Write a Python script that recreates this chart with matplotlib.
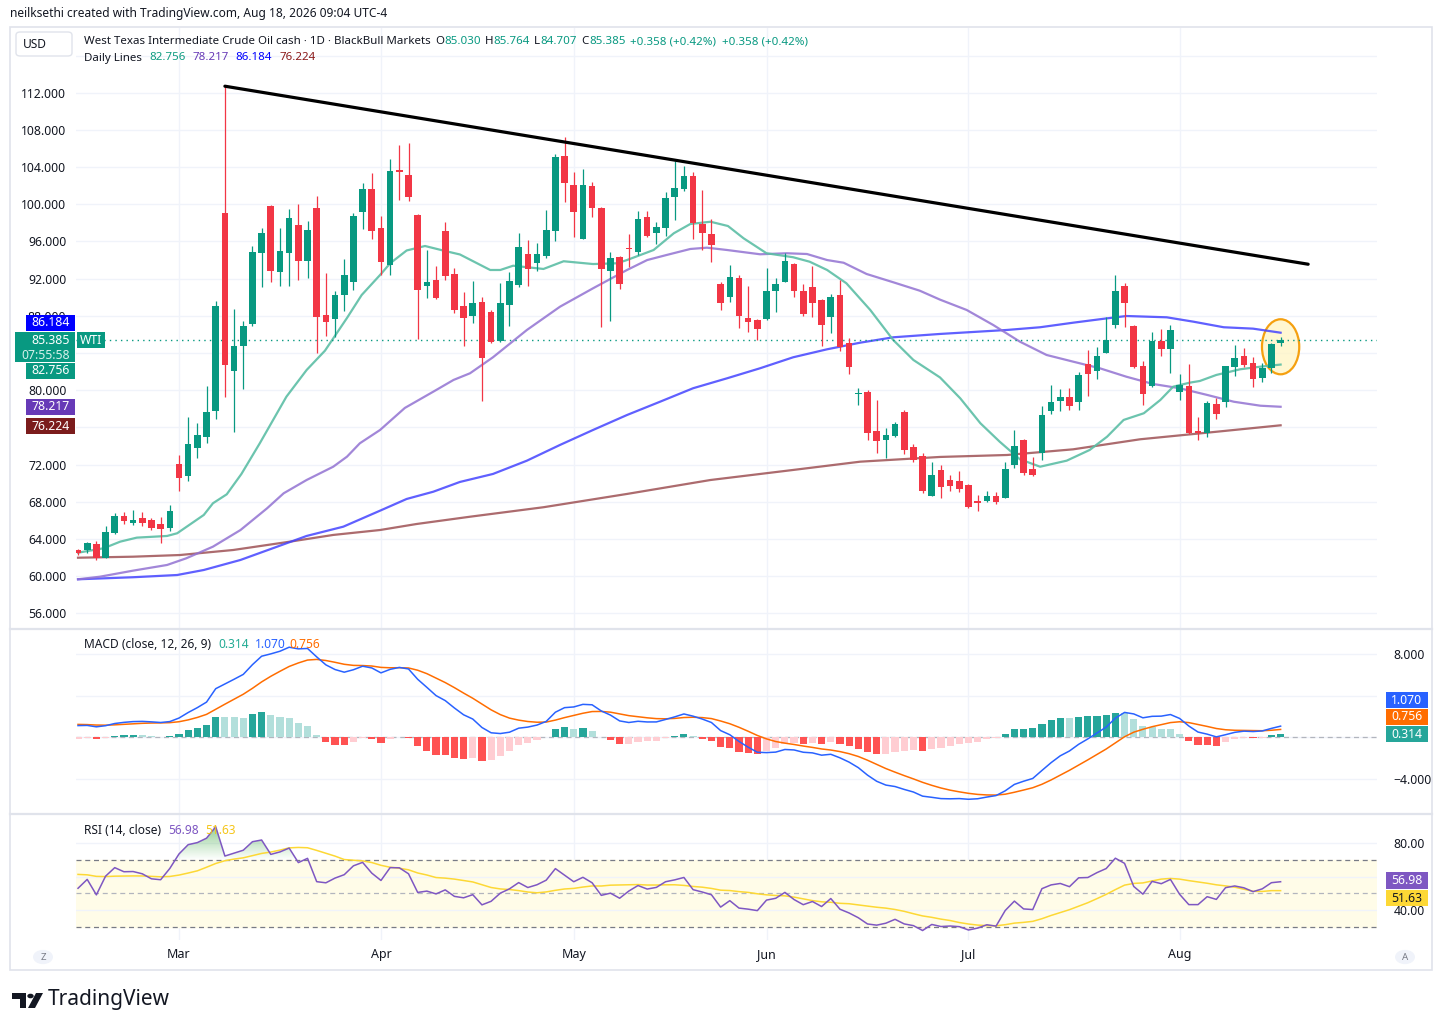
import matplotlib
matplotlib.use("Agg")
import matplotlib.pyplot as plt
from matplotlib.patches import Ellipse, Rectangle, FancyBboxPatch, Circle, Polygon
from matplotlib.lines import Line2D
from matplotlib.path import Path
import numpy as np
import pandas as pd

plt.rcParams['font.family'] = ['Noto Sans', 'DejaVu Sans']

# ---- daily candles, WTI cash, 13 Feb - 18 Aug 2026 ----
opens = [62.8, 62.8, 63.45, 62.0, 64.67, 66.45, 65.7, 66.2, 66.0, 65.6, 65.2,
         72.06, 70.8, 73.8, 75.0, 77.8, 99.1, 82.1, 84.8, 87.1, 94.8,
         99.8, 92.75, 94.8, 97.77, 93.93, 99.58, 88.1, 87.66, 90.27, 91.6,
         99.2, 101.6, 97.45, 93.47, 103.6, 103.15, 98.84, 91.2, 91.85, 97.12,
         92.5, 89.05, 88.0, 89.5, 88.41, 85.3, 89.2, 91.3, 94.65, 93.7,
         94.44, 97.16, 105.2, 102.07, 96.23, 101.96, 99.6, 92.85, 94.3, 95.3,
         94.9, 98.6, 96.88, 97.42, 100.74, 101.6, 103.04, 97.88, 96.8, 91.42,
         89.99, 92.04, 87.73, 87.55, 87.66, 90.7, 91.67, 93.57, 90.67, 91.13,
         89.7, 87.9, 90.24, 85.05, 79.55, 79.8, 75.6, 74.64, 75.1, 77.62,
         73.86, 72.92, 68.65, 71.4, 70.34, 70.23, 69.8, 67.95, 68.08, 68.62,
         68.44, 71.95, 74.64, 71.53, 73.2, 77.8, 78.84, 79.27, 78.77, 82.82,
         82.1, 84.03, 87.0, 91.2, 86.9, 82.6, 80.48, 85.3, 84.43, 79.84,
         80.45, 75.45, 75.36, 78.52, 78.77, 82.53, 83.68, 82.9, 81.35, 82.42, 85.03]
highs = [62.9, 63.7, 63.8, 65.4, 66.76, 66.9, 67.1, 66.9, 66.3, 66.4, 67.7,
         73.0, 77.1, 76.5, 80.45, 89.6, 112.7, 88.7, 87.4, 95.5, 97.45,
         99.9, 97.5, 99.45, 100.0, 98.2, 100.9, 92.64, 90.67, 94.1, 99.1,
         102.3, 103.4, 98.74, 104.9, 106.37, 106.55, 98.95, 95.08, 93.36, 98.1,
         93.1, 90.53, 91.75, 90.0, 88.6, 91.5, 92.68, 96.88, 96.16, 95.8,
         99.4, 105.4, 107.27, 103.44, 103.76, 102.4, 99.7, 94.83, 94.4, 96.8,
         99.27, 99.27, 98.06, 101.35, 104.69, 104.1, 103.44, 101.54, 98.37, 91.67,
         93.47, 92.39, 91.2, 87.7, 93.1, 92.04, 94.79, 93.7, 91.42, 93.4,
         89.8, 90.35, 91.85, 85.6, 80.27, 80.0, 78.95, 75.9, 76.6, 77.87,
         74.2, 73.2, 72.3, 71.9, 70.88, 71.3, 69.9, 68.73, 69.2, 69.02,
         72.28, 75.72, 74.75, 72.78, 78.3, 80.56, 80.13, 80.27, 82.0, 84.32,
         84.61, 87.84, 92.39, 91.56, 87.0, 83.17, 86.23, 86.58, 87.0, 81.74,
         82.82, 77.15, 78.87, 79.13, 82.6, 84.86, 84.57, 83.54, 82.9, 85.04, 85.764]
lows = [62.3, 62.5, 61.7, 61.9, 64.5, 65.6, 65.5, 65.4, 65.0, 63.6, 64.9,
        69.2, 70.2, 72.7, 74.3, 76.9, 79.3, 75.5, 80.1, 86.9, 91.1,
        91.67, 91.2, 91.2, 91.85, 92.1, 83.97, 85.86, 85.75, 88.5, 90.8,
        97.3, 96.26, 92.4, 92.4, 100.45, 100.4, 85.5, 89.88, 89.8, 91.85,
        88.34, 84.79, 87.26, 78.87, 85.1, 85.22, 86.94, 91.13, 91.24, 92.85,
        94.2, 96.08, 100.27, 96.5, 96.23, 98.67, 86.83, 87.47, 90.92, 93.3,
        94.54, 96.5, 95.73, 96.62, 98.3, 101.46, 96.23, 95.08, 93.82, 88.63,
        89.52, 86.72, 86.29, 85.4, 87.55, 88.44, 91.67, 90.06, 87.98, 87.9,
        84.76, 86.1, 84.2, 81.74, 78.4, 74.64, 73.2, 72.74, 75.0, 73.1,
        72.3, 68.9, 68.6, 68.4, 69.2, 69.0, 67.3, 67.04, 67.94, 67.76,
        68.37, 71.6, 70.9, 70.77, 72.5, 77.44, 77.8, 77.87, 77.87, 79.38,
        81.17, 84.03, 86.66, 86.83, 82.35, 78.4, 80.3, 83.68, 81.9, 78.95,
        75.3, 74.64, 74.99, 76.9, 78.16, 81.56, 82.5, 80.38, 80.9, 81.82, 84.707]
closes = [62.5, 63.6, 61.9, 64.7, 66.45, 65.96, 66.0, 65.75, 65.2, 65.1, 67.0,
          70.59, 74.2, 75.2, 77.65, 89.05, 82.7, 84.75, 86.9, 94.9, 96.9,
          92.85, 94.97, 98.5, 93.93, 97.23, 87.9, 87.37, 90.24, 92.39, 98.74,
          101.6, 97.16, 93.82, 103.58, 103.5, 100.81, 90.77, 91.6, 89.95, 92.31,
          88.63, 87.8, 89.4, 83.5, 85.22, 89.38, 91.75, 95.4, 93.04, 94.6,
          97.23, 105.1, 102.25, 99.2, 102.07, 99.56, 93.0, 94.2, 91.4, 95.2,
          98.37, 96.62, 97.52, 100.64, 101.7, 103.04, 97.95, 96.88, 95.65, 89.41,
          92.14, 88.0, 87.37, 86.55, 90.67, 91.42, 93.9, 90.7, 88.2, 89.41,
          87.01, 90.02, 84.68, 82.53, 79.65, 75.43, 74.57, 75.18, 76.36, 73.57,
          72.49, 69.19, 70.88, 69.6, 69.73, 69.37, 67.47, 67.9, 68.62, 67.97,
          71.49, 74.0, 71.13, 70.88, 77.3, 78.73, 79.27, 78.33, 81.63, 81.75,
          83.68, 85.4, 90.67, 89.41, 82.53, 79.6, 85.3, 84.43, 86.47, 80.56,
          75.43, 75.43, 78.66, 77.41, 82.6, 83.43, 82.71, 81.2, 82.35, 84.97, 85.385]

# "Daily Lines" moving averages (bar position, price)
fast_x = [0, 2.8, 4.6, 6.4, 9.7, 10.8, 13.7, 14.7, 16.2, 17.8, 19.8, 22.7, 24.9, 26.9, 29.3,
          30.9, 32.9, 34.0, 35.8, 37.8, 40.0, 41.6, 44.9, 46.0, 47.4, 50.7, 52.9, 56.1, 58.7,
          59.8, 62.7, 64.9, 66.7, 68.9, 70.8, 72.5, 75.0, 77.9, 79.7, 81.6, 83.7, 86.3, 88.8,
          91.0, 93.9, 96.1, 98.3, 100.4, 102.6, 104.8, 107.7, 110.2, 112.1, 113.9, 116.1,
          117.9, 119.3, 121.1, 122.2, 124.0, 126.6, 128.8, 131]
fast_v = [62.52, 63.0, 63.71, 64.14, 64.32, 64.61, 66.58, 67.84, 68.8, 70.99, 74.29, 79.3,
          82.17, 84.25, 87.77, 90.24, 92.39, 93.65, 95.03, 95.51, 94.97, 94.6, 92.93, 92.93,
          93.39, 93.04, 93.87, 93.57, 93.65, 94.0, 95.08, 96.88, 97.88, 98.12, 97.66, 96.34,
          94.73, 94.3, 93.82, 92.93, 91.5, 88.63, 85.4, 83.25, 81.37, 79.13, 76.44, 74.46,
          72.57, 71.77, 72.42, 73.57, 75.0, 76.8, 77.52, 78.95, 80.38, 80.81, 80.99, 81.64,
          82.25, 82.53, 82.756]
slow_x = [0, 2.4, 6.0, 9.7, 11.8, 14.7, 17.7, 20.6, 22.4, 24.9, 27.8, 29.3, 30.7, 32.9, 35.6,
          38.7, 40.9, 42.7, 45.2, 48.9, 52.5, 56.1, 59.8, 62.0, 64.1, 66.7, 68.5, 70.7, 74.3,
          77.2, 79.4, 81.6, 83.4, 85.9, 88.8, 91.7, 93.9, 96.8, 99.7, 102.6, 105.5, 108.4,
          111.3, 114.2, 117.1, 120.0, 123.0, 125.9, 128.8, 131]
slow_v = [59.66, 59.94, 60.59, 61.2, 61.92, 63.17, 64.96, 67.3, 68.91, 70.34, 71.77, 72.85,
          74.29, 75.72, 78.09, 79.84, 81.1, 81.82, 83.54, 86.48, 88.98, 90.96, 92.93, 94.0,
          94.54, 95.19, 95.33, 95.08, 94.62, 94.73, 94.65, 94.0, 93.71, 92.5, 91.61, 90.7,
          89.74, 88.63, 87.01, 85.22, 83.79, 83.07, 82.36, 81.45, 80.67, 80.21, 79.49, 78.76,
          78.33, 78.217]
mid_x = [0, 6.0, 10.8, 13.7, 17.7, 21.7, 24.9, 28.9, 32.9, 35.8, 38.7, 41.6, 45.2, 48.9, 52.5,
         56.1, 59.8, 63.4, 67.0, 70.7, 74.3, 77.9, 81.6, 85.2, 88.8, 93.9, 101.2, 104.8, 108.4,
         112.1, 114.2, 118.6, 121.5, 124.8, 128.0, 131]
mid_v = [59.66, 59.88, 60.12, 60.66, 61.74, 63.17, 64.32, 65.32, 67.04, 68.3, 69.08, 70.13,
         70.99, 72.42, 74.11, 75.72, 77.33, 78.76, 80.21, 81.28, 82.36, 83.54, 84.4, 85.11,
         85.69, 86.05, 86.48, 86.77, 87.26, 87.73, 87.98, 87.84, 87.37, 86.77, 86.62, 86.184]
long_x = [0, 6.0, 11.1, 16.9, 23.1, 27.8, 32.9, 36.9, 42.7, 50.7, 59.8, 68.9, 77.9, 85.2, 93.9,
          101.2, 108.4, 115.7, 123.0, 131]
long_v = [61.98, 62.09, 62.27, 62.81, 63.71, 64.43, 64.96, 65.61, 66.39, 67.41, 68.84, 70.34,
          71.42, 72.31, 72.82, 73.03, 73.64, 74.72, 75.43, 76.224]

# drawn trend line (bar, price)
trend_x = [16, 134.0]
trend_v = [112.7, 93.55]

# indicator start states (history before the visible range)
ema12_start, ema26_start, signal_start = 62.3, 61.1, 1.27
rsi_gain_start, rsi_loss_start, rsi_prior = 0.35, 0.31, 62.0

# trading days (Good Friday closed)
dates = pd.bdate_range("2026-02-13", "2026-08-18")
dates = dates[dates != pd.Timestamp("2026-04-03")]
month_names = ["Mar", "Apr", "May", "Jun", "Jul", "Aug"]

GREEN, RED = "#089981", "#F23645"
TXT = "#131722"
GRID = "#F0F3FA"

W, H = 1441, 1030
fig = plt.figure(figsize=(W / 100, H / 100), dpi=100)
fig.patch.set_facecolor("white")


def fx(px):
    return px / W


def fy(py):
    return 1 - py / H


L, R = 76, 1377
ax_p = fig.add_axes([fx(L), fy(628), (R - L) / W, 600 / H])
ax_m = fig.add_axes([fx(L), fy(813), (R - L) / W, 183 / H], sharex=ax_p)
ax_r = fig.add_axes([fx(L), fy(940), (R - L) / W, 125 / H], sharex=ax_p)

o, h, l, c = map(np.array, (opens, highs, lows, closes))
idx = np.arange(len(c))
month_idx = [int(np.argmax((dates.month == m) & (dates.year == 2026))) for m in range(3, 9)]

for ax in (ax_p, ax_m, ax_r):
    for s in ax.spines.values():
        s.set_visible(False)
    for m in month_idx:
        ax.axvline(m, color=GRID, lw=1, zorder=0)
    ax.tick_params(length=0, colors=TXT, labelsize=8.8)

# ---- price pane ----
ax_p.set_xlim(-0.22, 141.5)
ax_p.set_ylim(54.42, 118.96)
price_ticks = np.arange(56, 113, 4)
ax_p.set_yticks(price_ticks)
# 84 and 76 sit fully under the price badges
ax_p.set_yticklabels(["" if v in (84, 76) else f"{v:.3f}" for v in price_ticks])
ax_p.tick_params(axis="y", pad=7)
ax_p.tick_params(axis="x", labelbottom=False)
for v in np.arange(56, 117, 4):
    ax_p.axhline(v, color=GRID, lw=1, zorder=0)

ax_p.add_patch(Ellipse((131, 84.67), 4.06, 5.92, facecolor=(1, 0.96, 0.78, 0.8),
                       edgecolor="#F5A00F", lw=1.6, zorder=1.5))

ax_p.plot(long_x, long_v, color="#A35B5E", lw=1.6, alpha=0.9, zorder=2)
ax_p.plot(mid_x, mid_v, color="#4444FF", lw=1.6, alpha=0.85, zorder=2)
ax_p.plot(slow_x, slow_v, color="#9272D2", lw=1.6, alpha=0.85, zorder=2)
ax_p.plot(fast_x, fast_v, color="#5CBEA5", lw=1.6, alpha=0.9, zorder=2)

cols = np.where(c >= o, GREEN, RED)
ax_p.vlines(idx, l, h, colors=cols, lw=0.9, zorder=3)
ax_p.bar(idx, np.maximum(np.abs(c - o), 0.14), bottom=np.minimum(o, c), width=0.72,
         color=cols, linewidth=0, zorder=4)

ax_p.plot(trend_x, trend_v, color="black", lw=2.3, solid_capstyle="round", zorder=5)
ax_p.axhline(closes[-1], color=GREEN, lw=1, ls=(0, (1, 3)), zorder=2.5)

# ---- MACD ----
def ema(start, values, n):
    a = 2 / (n + 1)
    e, out = start, []
    for v in values:
        e = e + a * (v - e)
        out.append(e)
    return np.array(out)


macd = ema(ema12_start, c, 12) - ema(ema26_start, c, 26)
signal = ema(signal_start, macd, 9)
hist = macd - signal
prev = np.r_[hist[0], hist[:-1]]
hcols = np.where(hist >= 0, np.where(hist >= prev, "#26A69A", "#B2DFDB"),
                 np.where(hist < prev, "#FF5252", "#FFCDD2"))
ax_m.set_ylim(-7.26, 10.3)
for v in (-4, 0, 4, 8):
    ax_m.axhline(v, color=GRID, lw=1, zorder=0)
ax_m.axhline(0, color="#B2B5BE", lw=0.9, ls=(0, (4, 3)), zorder=1)
ax_m.bar(idx, hist, width=0.78, color=hcols, linewidth=0, zorder=2)
ax_m.plot(idx, signal, color="#FF6D00", lw=1.1, zorder=3)
ax_m.plot(idx, macd, color="#2962FF", lw=1.1, zorder=4)
ax_m.yaxis.tick_right()
ax_m.set_yticks([-4, 4, 8])
ax_m.set_yticklabels(["\u22124.000", "4.000", "8.000"])
ax_m.tick_params(axis="y", pad=12)
ax_m.tick_params(axis="x", labelbottom=False)

# ---- RSI ----
ag, al = rsi_gain_start, rsi_loss_start
rsi = [100 - 100 / (1 + ag / al)]
for i in range(1, len(c)):
    d = c[i] - c[i - 1]
    ag = (ag * 13 + max(d, 0)) / 14
    al = (al * 13 + max(-d, 0)) / 14
    rsi.append(100 - 100 / (1 + ag / al))
rsi = np.array(rsi)
rsi_ma = pd.Series(np.r_[[rsi_prior] * 13, rsi]).rolling(14).mean().to_numpy()[13:]

ax_r.set_ylim(22.0, 97.0)
ax_r.axhspan(30, 70, color="#FFFCE8", zorder=0)
for v in (40, 60, 80):
    ax_r.axhline(v, color=GRID, lw=1, zorder=0.5)
ax_r.axhline(70, color="#787B86", lw=0.9, ls=(0, (4, 3)), zorder=1)
ax_r.axhline(30, color="#787B86", lw=0.9, ls=(0, (4, 3)), zorder=1)
ax_r.axhline(50, color="#B2B5BE", lw=0.9, ls=(0, (4, 3)), zorder=1)

xs = np.linspace(0, len(c) - 1, 2000)
ri = np.interp(xs, idx, rsi)
for lvl, rgb, cond, lo, hi, up in ((70, (0.30, 0.69, 0.31), ri > 70, 70, 90, True),
                                   (30, (0.96, 0.26, 0.21), ri < 30, 22, 30, False)):
    coll = ax_r.fill_between(xs, lvl, ri, where=cond, color="none", lw=0)
    paths = coll.get_paths()
    if paths:
        grad = np.zeros((100, 2, 4))
        grad[..., :3] = rgb
        a = np.linspace(0, 0.6, 100)
        grad[..., 3] = (a if up else a[::-1])[:, None]
        im = ax_r.imshow(grad, extent=[xs[0], xs[-1], lo, hi],
                         origin="lower", aspect="auto", zorder=1.2)
        im.set_clip_path(Path.make_compound_path(*paths), transform=ax_r.transData)

ax_r.plot(idx, rsi_ma, color="#FDD835", lw=1.1, zorder=3)
ax_r.plot(idx, rsi, color="#7E57C2", lw=1.1, zorder=4)
ax_r.set_xlim(-0.22, 141.5)
ax_r.set_ylim(22.0, 97.0)
ax_r.yaxis.tick_right()
ax_r.set_yticks([40, 60, 80])
ax_r.set_yticklabels(["40.00", "60.00", "80.00"])
ax_r.tick_params(axis="y", pad=12)
ax_r.set_xticks(month_idx)
ax_r.set_xticklabels(month_names, fontsize=9)
ax_r.tick_params(axis="x", pad=6)

# ---- frame and separators ----
fig.add_artist(Rectangle((fx(10), fy(970)), (1432 - 10) / W, (970 - 27) / H,
                         transform=fig.transFigure, fill=False, edgecolor="#E0E3EB", lw=1.2))
for yy in (629, 814):
    fig.add_artist(Line2D([fx(10), fx(1432)], [fy(yy), fy(yy)], transform=fig.transFigure,
                          color="#E0E3EB", lw=1.6))

renderer = fig.canvas.get_renderer()


def text_run(x, y, parts, size=8.3):
    for s, color, gap in parts:
        t = fig.text(fx(x), fy(y), s, color=color, fontsize=size, ha="left", va="center")
        x += t.get_window_extent(renderer).width + gap


def badge(x0, x1, y0, y1, label, fc, tc="white", ha="right"):
    fig.add_artist(Rectangle((fx(x0), fy(y1)), (x1 - x0) / W, (y1 - y0) / H,
                             transform=fig.transFigure, facecolor=fc, edgecolor="none", zorder=10))
    tx = x1 - 5 if ha == "right" else (x0 + x1) / 2
    fig.text(fx(tx), fy((y0 + y1) / 2), label, color=tc, fontsize=8.8, ha=ha, va="center",
             zorder=11)


fig.text(fx(10), fy(14), "neilksethi created with TradingView.com, Aug 18, 2026 09:04 UTC-4",
         color=TXT, fontsize=8.6, ha="left", va="center")

fig.add_artist(FancyBboxPatch((fx(16), fy(56)), 56 / W, 24 / H, transform=fig.transFigure,
                              boxstyle="round,pad=0,rounding_size=0.003", facecolor="white",
                              edgecolor="#E0E3EB", lw=1))
fig.text(fx(23), fy(44), "USD", color=TXT, fontsize=8.6, ha="left", va="center")

text_run(84, 42, [("West Texas Intermediate Crude Oil cash \u00b7 1D \u00b7 BlackBull Markets", TXT, 4),
                  ("O", TXT, 0.5), ("85.030", GREEN, 4),
                  ("H", TXT, 0.5), ("85.764", GREEN, 4),
                  ("L", TXT, 0.5), ("84.707", GREEN, 4),
                  ("C", TXT, 0.5), ("85.385", GREEN, 5),
                  ("+0.358 (+0.42%)", GREEN, 5), ("+0.358 (+0.42%)", GREEN, 0)])
text_run(84, 58, [("Daily Lines", TXT, 7), ("82.756", "#0E9C80", 7), ("78.217", "#673AB7", 7),
                  ("86.184", "#0000FF", 7), ("76.224", "#8B1A1A", 0)])
text_run(84, 644, [("MACD (close, 12, 26, 9)", TXT, 7), ("0.314", "#22AB94", 6),
                   ("1.070", "#2962FF", 4), ("0.756", "#FF6D00", 0)], size=8.6)
text_run(84, 830, [("RSI (14, close)", TXT, 7), ("56.98", "#7E57C2", 6),
                   ("51.63", "#F5C518", 0)], size=8.6)

# price badges on the left scale
badge(26, 75, 315, 331, "86.184", "#0000FF")
fig.add_artist(Rectangle((fx(15), fy(362)), 60 / W, 30 / H, transform=fig.transFigure,
                         facecolor=GREEN, edgecolor="none", zorder=10))
fig.text(fx(70), fy(340), "85.385", color="white", fontsize=8.8, ha="right", va="center", zorder=11)
fig.text(fx(70), fy(355), "07:55:58", color="#D5F0EA", fontsize=8.8, ha="right", va="center", zorder=11)
badge(26, 75, 363, 379, "82.756", GREEN)
badge(26, 75, 399, 415, "78.217", "#673AB7")
badge(26, 75, 418, 434, "76.224", "#7B1C1C")
badge(77, 105, 332, 348, "WTI", GREEN, ha="center")

# indicator badges on the right scale
badge(1386, 1428, 692, 708, "1.070", "#2962FF", ha="center")
badge(1386, 1428, 709, 725, "0.756", "#FF6D00", ha="center")
badge(1386, 1428, 726, 742, "0.314", "#26A69A", ha="center")
badge(1386, 1428, 872, 889, "56.98", "#7E57C2", ha="center")
badge(1386, 1428, 890, 906, "51.63", "#FDD835", tc=TXT, ha="center")

for cx, letter in ((43, "Z"), (1405, "A")):
    fig.add_artist(Circle((fx(cx), fy(957)), 10 / W, transform=fig.transFigure,
                          facecolor="#F0F3FA", edgecolor="none"))
    fig.text(fx(cx), fy(957), letter, color="#787B86", fontsize=7, ha="center", va="center")

# TradingView logo
fig.add_artist(Polygon([(fx(12), fy(993)), (fx(26), fy(993)), (fx(26), fy(1008)), (fx(20), fy(1008)),
                        (fx(20), fy(999)), (fx(12), fy(999))], closed=True,
                       transform=fig.transFigure, facecolor=TXT, edgecolor="none"))
fig.add_artist(Circle((fx(30.5), fy(996)), 3.2 / W, transform=fig.transFigure, facecolor=TXT))
fig.add_artist(Polygon([(fx(36), fy(993)), (fx(43), fy(993)), (fx(35), fy(1008)), (fx(28), fy(1008))],
                       closed=True, transform=fig.transFigure, facecolor=TXT, edgecolor="none"))
fig.text(fx(48), fy(1000), "TradingView", color=TXT, fontsize=15, fontweight="bold",
         ha="left", va="center")

fig.savefig("out.png", dpi=100)
